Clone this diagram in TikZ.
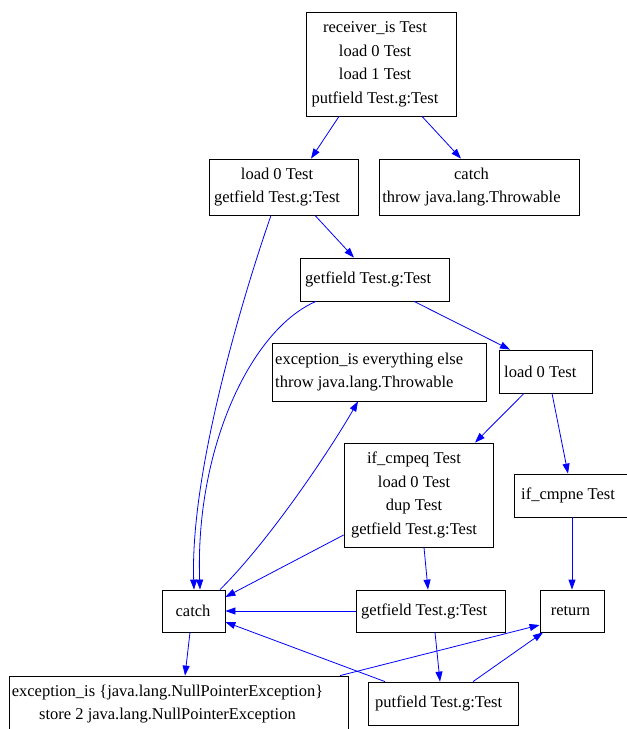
\documentclass[tikz,border=0pt]{standalone}
\usepackage{fontspec}
\setmainfont{Liberation Serif}
\usetikzlibrary{arrows.meta}
\begin{document}
\begin{tikzpicture}[x=1bp,y=-1bp,
  frame/.style={draw, line width=0.8bp, inner sep=0pt},
  txt/.style={inner sep=0pt, font=\fontsize{16.5bp}{23.5bp}\selectfont, align=center},
  ltxt/.style={txt, align=left, anchor=west},
  e/.style={draw=blue, line width=0.8bp, -{Triangle[length=10bp,width=7bp]}, fill=none}]
\useasboundingbox (0,0) rectangle (627,729);
\clip (0,0) rectangle (627,729);

% boxes
\node[frame, minimum width=150bp, minimum height=104bp] (A) at (381,64) {};
\node[frame, minimum width=149bp, minimum height=56bp] (B) at (283.5,187) {};
\node[frame, minimum width=200bp, minimum height=56bp] (C) at (479,187) {};
\node[frame, minimum width=149bp, minimum height=43bp] (D) at (374.5,279.5) {};
\node[frame, minimum width=214bp, minimum height=58bp] (E) at (379,372) {};
\node[frame, minimum width=93bp, minimum height=43bp] (F) at (545.5,371.5) {};
\node[frame, minimum width=149bp, minimum height=104bp] (G) at (418.5,495) {};
\node[frame, minimum width=118bp, minimum height=43bp] (H) at (573,495.5) {};
\node[frame, minimum width=63bp, minimum height=42bp] (I) at (193.5,611) {};
\node[frame, minimum width=149bp, minimum height=42bp] (J) at (430.5,611) {};
\node[frame, minimum width=64bp, minimum height=42bp] (K) at (572,611) {};
\node[frame, minimum width=339bp, minimum height=56bp] (L) at (178.5,704) {};
\node[frame, minimum width=150bp, minimum height=43bp] (M) at (443,703.5) {};

% texts
\node[txt] (At) at (375,64.5) {receiver\_is Test\\load 0 Test\\load 1 Test\\putfield Test.g:Test};
\node[txt] (Bt) at (277,187) {load 0 Test\\getfield Test.g:Test};
\node[txt] (Ct) at (471.5,187) {catch\\throw java.lang.Throwable};
\node[ltxt] (Dt) at (305,279.5) {getfield Test.g:Test};
\node[ltxt] (Et) at (275,372) {exception\_is everything else\\throw java.lang.Throwable};
\node[ltxt] (Ft) at (504,371.5) {load 0 Test};
\node[txt] (Gt) at (414,495) {if\_cmpeq Test\\load 0 Test\\dup Test\\getfield Test.g:Test};
\node[ltxt] (Ht) at (521,495.5) {if\_cmpne Test};
\node[txt] (It) at (193,611) {catch};
\node[ltxt] (Jt) at (361,611) {getfield Test.g:Test};
\node[txt] (Kt) at (570.5,611) {return};
\node[txt] (Lt) at (167.5,704) {exception\_is \{java.lang.NullPointerException\}\\store 2 java.lang.NullPointerException};
\node[ltxt] (Mt) at (375,703.5) {putfield Test.g:Test};

% connectors
\draw[e] (A.south -| 339,0) -- (B.north -| 311,0);
\draw[e] (A.south -| 422,0) -- (C.north -| 461,0);
\draw[e] (B.south -| 315,0) -- (D.north -| 354,0);
\draw[e] (B.south -| 271,0) .. controls (245,290) and (190,470) .. (I.north -| 194,0);
\draw[e] (D.south -| 316,0) .. controls (250,330) and (195,450) .. (I.north -| 200,0);
\draw[e] (D.south -| 414,0) -- (F.north -| 510,0);
\draw[e] (I.north -| 220,0) .. controls (270,540) and (330,450) .. (E.south -| 358,0);
\draw[e] (F.south -| 524,0) -- (G.north -| 475,0);
\draw[e] (F.south -| 552,0) -- (H.north -| 568,0);
\draw[e] (G.west |- 0,535) -- (I.east |- 0,597);
\draw[e] (G.south -| 424,0) -- (J.north -| 428,0);
\draw[e] (H.south -| 572,0) -- (K.north -| 572,0);
\draw[e] (J.west) -- (I.east);
\draw[e] (J.south -| 435,0) -- (M.north -| 440,0);
\draw[e] (M.north -| 385,0) -- (I.east |- 0,622);
\draw[e] (M.north -| 473,0) -- (K.south -| 543,0);
\draw[e] (L.north -| 340,0) -- (K.west |- 0,625);
\draw[e] (I.south -| 190,0) -- (L.north -| 185,0);
\end{tikzpicture}
\end{document}
